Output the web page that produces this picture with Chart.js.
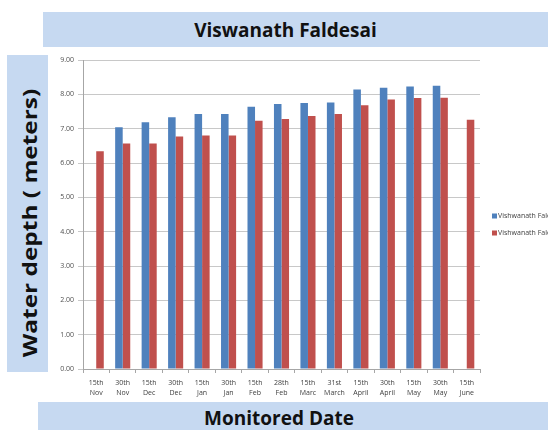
<!DOCTYPE html>
<html><head><meta charset="utf-8">
<script src="https://cdn.jsdelivr.net/npm/chart.js@4/dist/chart.umd.min.js"></script>
<style>
html,body{margin:0;padding:0;background:#fff;width:548px;height:430px;overflow:hidden;position:relative;font-family:"Open Sans",sans-serif}
#wrap{position:absolute;left:0;top:0;width:548px;height:430px}
.box{position:absolute;background:#c6d9f1;color:#111;font-weight:700;display:flex;align-items:center;justify-content:center;white-space:nowrap}
#t{left:43px;top:12px;width:505px;height:35px;font-size:19px;padding-right:20px;padding-top:1px;box-sizing:border-box}
#b{left:38px;top:402px;width:510px;height:28px;font-size:19px;padding-right:28px;padding-top:4px;box-sizing:border-box}
#y{left:7px;top:55px;width:41px;height:317px;display:block}
#y span{position:absolute;left:22px;top:168px;transform:translate(-50%,-50%) rotate(-90deg) scaleX(1.22);font-size:20px;display:block;white-space:nowrap}
</style></head><body>
<div id="wrap"><canvas id="c" width="548" height="430"></canvas></div>
<div class="box" id="t">Viswanath Faldesai</div>
<div class="box" id="y"><span>Water depth ( meters)</span></div>
<div class="box" id="b">Monitored Date</div>
<script>
const categories = [['15th','Nov'],['30th','Nov'],['15th','Dec'],['30th','Dec'],['15th','Jan'],['30th','Jan'],['15th','Feb'],['28th','Feb'],['15th','Marc'],['31st','March'],['15th','April'],['30th','April'],['15th','May'],['30th','May'],['15th','June']];
const seriesNames = ['Vishwanath Faldesai 2011-12','Vishwanath Faldesai 2012-13'];
const blueValues = [null,7.04,7.19,7.33,7.43,7.43,7.64,7.72,7.75,7.76,8.14,8.19,8.23,8.25,null];
const redValues = [6.34,6.57,6.57,6.77,6.80,6.80,7.23,7.28,7.37,7.43,7.68,7.85,7.89,7.90,7.26];
const yTicks = [0,1,2,3,4,5,6,7,8,9];

const legendPlugin = {
  id:'sideLegend',
  afterDraw(chart){
    const ctx = chart.ctx;
    ctx.save();
    ctx.font = '7px "Open Sans", sans-serif';
    ctx.textBaseline = 'middle';
    chart.data.datasets.forEach((ds,i)=>{
      const y = 216 + i*17;
      ctx.fillStyle = ds.backgroundColor;
      ctx.fillRect(492, y-2.5, 5, 5);
      ctx.fillStyle = '#404040';
      ctx.fillText(ds.label, 498, y);
    });
    ctx.restore();
  }
};

new Chart(document.getElementById('c'), {
  type:'bar',
  data:{
    labels: categories,
    datasets:[
      {label: seriesNames[0], data: blueValues, backgroundColor:'#4f81bd', categoryPercentage:0.57, barPercentage:1.0},
      {label: seriesNames[1], data: redValues, backgroundColor:'#c0504d', categoryPercentage:0.57, barPercentage:1.0}
    ]
  },
  options:{
    responsive:false, animation:false,
    layout:{padding:{left:0,right:68,top:60,bottom:0}},
    plugins:{legend:{display:false}, tooltip:{enabled:false}},
    scales:{
      x:{
        afterFit(s){ s.height = 61; },
        grid:{offset:true, drawOnChartArea:false, drawTicks:true, tickLength:4, color:'#a6a6a6'},
        border:{color:'#a6a6a6'},
        ticks:{font:{size:7, family:'"Open Sans", sans-serif', lineHeight:1.4}, color:'#404040', padding:5, maxRotation:0, autoSkip:false}
      },
      y:{
        min:0, max:9,
        afterFit(s){ s.width = 83; },
        afterBuildTicks(s){ s.ticks = yTicks.map(v=>({value:v})); },
        grid:{color:'#c8c8c8', tickLength:5, drawTicks:true},
        border:{color:'#a6a6a6'},
        ticks:{font:{size:7, family:'"Open Sans", sans-serif'}, color:'#505050', padding:4, callback:v=>Number(v).toFixed(2)}
      }
    }
  },
  plugins:[legendPlugin]
});
</script>
</body></html>
